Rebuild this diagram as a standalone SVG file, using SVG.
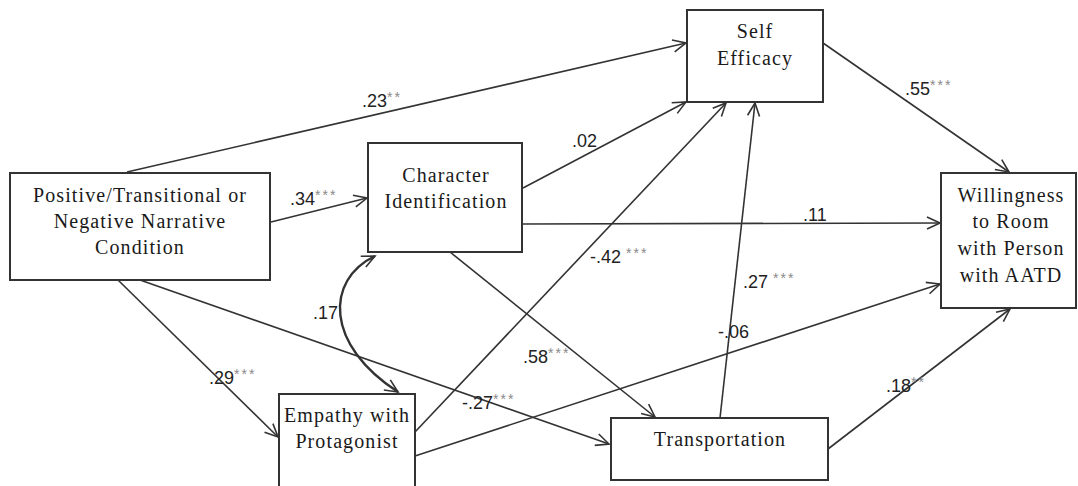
<svg xmlns="http://www.w3.org/2000/svg" width="1078" height="486" viewBox="0 0 1078 486">
  <style>
    .box { fill: #fff; stroke: #333; stroke-width: 2; }
    .node-text { font-size: 20px; letter-spacing: 1.1px; fill: #1a1a1a; text-anchor: middle; }
    .edge { fill: none; stroke: #333; stroke-width: 1.6; marker-end: url(#arrow); }
    .curve { fill: none; stroke: #333; stroke-width: 2.4; marker-end: url(#arrow); marker-start: url(#arrow); }
    .lbl { font-size: 18px; fill: #222; }
    .sig { font-size: 14px; fill: #8a8a8a; letter-spacing: 2px; }
  </style>
  <defs>
    <marker id="arrow" markerUnits="userSpaceOnUse" markerWidth="17" markerHeight="15" refX="14" refY="6.5" orient="auto-start-reverse" viewBox="0 0 17 13">
      <path d="M1,0.5 L14,6.5 L1,12.5" fill="none" stroke="#333" stroke-width="1.6"/>
    </marker>
  </defs>
  <rect width="1078" height="486" fill="#fff"/>

  <g id="connectors">
    <!-- condition paths -->
    <path class="edge" d="M127,172 L686,43"/>
    <path class="edge" d="M271,222 L367,198"/>
    <path class="edge" d="M118,280 L278,437"/>
    <path class="edge" d="M140,280 L609,444"/>
    <!-- character identification paths -->
    <path class="edge" d="M523,188 L686,102"/>
    <path class="edge" d="M523,224 L940,223"/>
    <path class="edge" d="M450,252 L655,417"/>
    <!-- empathy paths -->
    <path class="edge" d="M415,432 L726,103"/>
    <path class="edge" d="M415,456 L940,284"/>
    <!-- transportation paths -->
    <path class="edge" d="M720,418 L755,103"/>
    <path class="edge" d="M828,449 L1010,309"/>
    <!-- self efficacy to outcome -->
    <path class="edge" d="M823,43 L1009,172"/>
    <!-- covariance between identification and empathy -->
    <path class="curve" d="M375,256 C325,280 325,345 398,392"/>
  </g>

  <g id="labels" font-family="Liberation Sans, Arial, sans-serif">
    <text class="lbl" x="362" y="107">.23<tspan class="sig" dy="-5">**</tspan></text>
    <text class="lbl" x="290" y="205">.34<tspan class="sig" dy="-5">***</tspan></text>
    <text class="lbl" x="572" y="147">.02</text>
    <text class="lbl" x="803" y="221">.11</text>
    <text class="lbl" x="905" y="95">.55<tspan class="sig" dy="-5">***</tspan></text>
    <text class="lbl" x="590" y="263">-.42 <tspan class="sig" dy="-5">***</tspan></text>
    <text class="lbl" x="743" y="288">.27 <tspan class="sig" dy="-5">***</tspan></text>
    <text class="lbl" x="718" y="338">-.06</text>
    <text class="lbl" x="523" y="363">.58<tspan class="sig" dy="-5">***</tspan></text>
    <text class="lbl" x="462" y="409">-.27<tspan class="sig" dy="-5">***</tspan></text>
    <text class="lbl" x="209" y="384">.29<tspan class="sig" dy="-5">***</tspan></text>
    <text class="lbl" x="886" y="392">.18<tspan class="sig" dy="-5">**</tspan></text>
    <text class="lbl" x="313" y="319">.17</text>
  </g>

  <g font-family="Liberation Serif, Times New Roman, serif">
    <g id="node-condition">
      <rect class="box" x="10" y="173" width="260" height="107"/>
      <text class="node-text" x="140" y="202">Positive/Transitional or</text>
      <text class="node-text" x="140" y="228">Negative Narrative</text>
      <text class="node-text" x="140" y="254">Condition</text>
    </g>

    <g id="node-identification">
      <rect class="box" x="368" y="143" width="154" height="109"/>
      <text class="node-text" x="446" y="182">Character</text>
      <text class="node-text" x="446" y="208">Identification</text>
    </g>

    <g id="node-efficacy">
      <rect class="box" x="687" y="10" width="136" height="92"/>
      <text class="node-text" x="755" y="38">Self</text>
      <text class="node-text" x="755" y="65">Efficacy</text>
    </g>

    <g id="node-willingness">
      <rect class="box" x="941" y="173" width="135" height="135"/>
      <text class="node-text" x="1011" y="202">Willingness</text>
      <text class="node-text" x="1011" y="228">to Room</text>
      <text class="node-text" x="1011" y="255">with Person</text>
      <text class="node-text" x="1011" y="282">with AATD</text>
    </g>

    <g id="node-empathy">
      <rect class="box" x="279" y="394" width="136" height="100"/>
      <text class="node-text" x="347" y="422">Empathy with</text>
      <text class="node-text" x="347" y="448">Protagonist</text>
    </g>

    <g id="node-transportation">
      <rect class="box" x="611" y="418" width="217" height="62"/>
      <text class="node-text" x="720" y="446">Transportation</text>
    </g>
  </g>
</svg>
